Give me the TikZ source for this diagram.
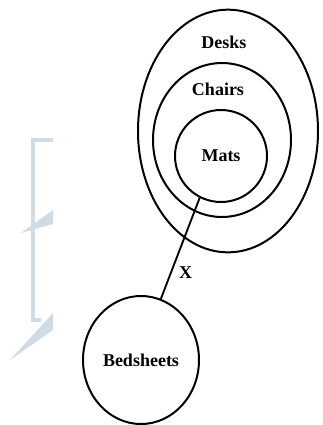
\documentclass[tikz,border=0pt]{standalone}
\usepackage{fontspec}
\setmainfont{Liberation Serif}
\definecolor{wmark}{RGB}{208,219,228}
\usetikzlibrary{shapes.geometric, positioning}
\tikzset{
	setring/.style={ellipse, draw=black, line width=1.5pt, inner sep=0pt},
	setlabel/.style={font=\bfseries\fontsize{13.5}{15}\selectfont, text=black},
	link/.style={line width=1.4pt, draw=black},
}
\begin{document}
\begin{tikzpicture}[x=0.75pt, y=-0.75pt]
		\useasboundingbox (0,0) rectangle (322,425);
		% watermark
		\draw[wmark, line width=3pt] (53,140) -- (33,140) -- (33,320) -- (41,320);
		\fill[wmark] (21,233) -- (53,210) -- (53,224) -- cycle;
		\fill[wmark] (10,360) -- (53,313) -- (53,330) -- cycle;
		% sets
		\node[setring, minimum width=135pt, minimum height=182pt] (desks) at (228,131) {};
		\node[setring, minimum width=103.5pt, minimum height=115.5pt] (chairs) at (222,140) {};
		\node[setring, setlabel, minimum width=69pt, minimum height=69pt] (mats) at (221,156) {Mats};
		\node[setring, setlabel, minimum width=87pt, minimum height=96pt] (bed) at (141,360) {Bedsheets};
		\node[setlabel] (desksname) at (224,42) {Desks};
		\node[setlabel] (chairsname) at (218,89) {Chairs};
		\draw[link] (mats.243) -- node[setlabel, pos=0.74, right=2pt] (x) {X} (bed.72);
	\end{tikzpicture}
\end{document}
